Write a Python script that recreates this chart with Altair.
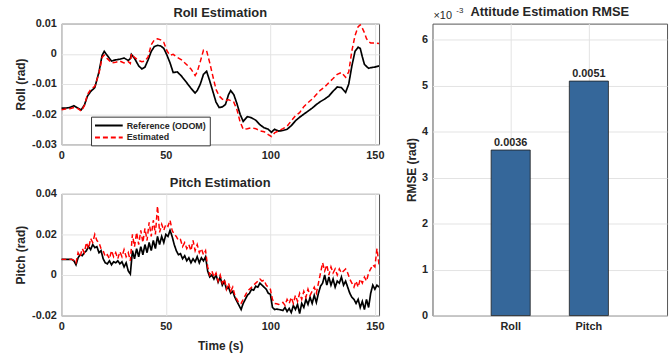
import altair as alt
import pandas as pd

FONT = "Liberation Sans"
INK = "#262626"
GRID = "#e3e3e3"

series_names = ["Reference (ODOM)", "Estimated"]
series_colors = ["#000000", "#ff0000"]

# ---------------- Roll (rad) ----------------
roll_t = [0, 2, 4, 6, 8, 9.5, 11, 12.5, 14, 16, 18, 19.5, 20.5, 22, 24, 26, 28, 30, 32, 33,
          33.5, 35, 37, 38.5, 40, 41.5, 43, 44.5, 46, 47.5, 49, 50.5, 52, 53.5, 55.5, 57.5,
          60, 62, 64, 65, 66.5, 68, 69.5, 71, 72.5, 74, 75.5, 77, 78.5, 80, 81, 82.5, 84,
          85.5, 87, 89, 91, 93, 95, 97, 99, 100.5, 102, 104, 106, 108, 110, 112, 114, 116,
          118, 120, 122, 124, 126, 128, 130, 132, 134, 136, 137.5, 139, 140.5, 142, 143,
          144, 145, 146, 147, 148, 150, 152]
roll_ref = [-0.0180, -0.0180, -0.0178, -0.0172, -0.0180, -0.0186, -0.0170, -0.0140, -0.0125,
            -0.0112, -0.0060, -0.0005, 0.0008, -0.0006, -0.0024, -0.0020, -0.0018, -0.0014,
            -0.0022, -0.0016, -0.0002, -0.0015, -0.0040, -0.0050, -0.0044, -0.0020, 0.0008,
            0.0024, 0.0028, 0.0026, 0.0018, -0.0004, -0.0030, -0.0062, -0.0060, -0.0074,
            -0.0096, -0.0114, -0.0130, -0.0122, -0.0100, -0.0068, -0.0058, -0.0090, -0.0125,
            -0.0160, -0.0178, -0.0176, -0.0168, -0.0135, -0.0122, -0.0135, -0.0165, -0.0200,
            -0.0224, -0.0208, -0.0212, -0.0220, -0.0235, -0.0245, -0.0250, -0.0260, -0.0250,
            -0.0256, -0.0254, -0.0250, -0.0238, -0.0222, -0.0210, -0.0200, -0.0190, -0.0180,
            -0.0168, -0.0158, -0.0150, -0.0140, -0.0124, -0.0110, -0.0112, -0.0128, -0.0100,
            -0.0040, 0.0008, 0.0022, 0.0018, -0.0010, -0.0035, -0.0042, -0.0048, -0.0046,
            -0.0044, -0.0040]
roll_est = [-0.0185, -0.0183, -0.0182, -0.0178, -0.0182, -0.0190, -0.0172, -0.0135, -0.0118,
            -0.0108, -0.0065, -0.0012, -0.0004, -0.0016, -0.0030, -0.0028, -0.0024, -0.0030,
            -0.0026, -0.0032, 0.0000, -0.0012, -0.0022, -0.0026, -0.0024, -0.0010, 0.0030,
            0.0046, 0.0050, 0.0046, 0.0038, 0.0010, -0.0005, -0.0002, -0.0012, -0.0020,
            -0.0036, -0.0050, -0.0072, -0.0060, -0.0025, 0.0012, 0.0010, -0.0030, -0.0075,
            -0.0118, -0.0140, -0.0150, -0.0155, -0.0152, -0.0155, -0.0160, -0.0185, -0.0225,
            -0.0250, -0.0248, -0.0245, -0.0248, -0.0255, -0.0258, -0.0268, -0.0274, -0.0262,
            -0.0255, -0.0248, -0.0240, -0.0222, -0.0205, -0.0195, -0.0175, -0.0162, -0.0150,
            -0.0135, -0.0120, -0.0110, -0.0095, -0.0082, -0.0068, -0.0062, -0.0078, -0.0060,
            0.0010, 0.0060, 0.0090, 0.0096, 0.0085, 0.0070, 0.0050, 0.0040, 0.0036,
            0.0036, 0.0034]

# ---------------- Pitch (rad) ----------------
pitch_t = [0] + list(range(5, 153))
pitch_ref = [0.0077, 0.0077, 0.0070, 0.0050, 0.0085, 0.0100, 0.0095, 0.0110, 0.0120, 0.0140,
             0.0125, 0.0150, 0.0135, 0.0140, 0.0110, 0.0120, 0.0080, 0.0060, 0.0055, 0.0070,
             0.0050, 0.0065, 0.0060, 0.0070, 0.0055, 0.0065, 0.0040, 0.0060, 0.0020, 0.0005,
             0.0120, 0.0080, 0.0130, 0.0090, 0.0140, 0.0100, 0.0150, 0.0110, 0.0160, 0.0120,
             0.0170, 0.0130, 0.0190, 0.0150, 0.0190, 0.0160, 0.0200, 0.0190, 0.0220, 0.0190,
             0.0150, 0.0120, 0.0100, 0.0105, 0.0080, 0.0095, 0.0070, 0.0085, 0.0060, 0.0080,
             0.0065, 0.0090, 0.0060, 0.0085, 0.0070, 0.0090, 0.0020, -0.0010, 0.0000, -0.0020,
             0.0000, -0.0035, -0.0010, -0.0050, -0.0030, -0.0070, -0.0060, -0.0090, -0.0080,
             -0.0110, -0.0130, -0.0150, -0.0170, -0.0140, -0.0120, -0.0100, -0.0090, -0.0070,
             -0.0075, -0.0055, -0.0060, -0.0040, -0.0050, -0.0060, -0.0070, -0.0090, -0.0095,
             -0.0160, -0.0170, -0.0168, -0.0170, -0.0172, -0.0175, -0.0160, -0.0180, -0.0165,
             -0.0185, -0.0150, -0.0170, -0.0145, -0.0190, -0.0140, -0.0160, -0.0120, -0.0145,
             -0.0110, -0.0140, -0.0100, -0.0135, -0.0090, -0.0055, -0.0040, 0.0000, -0.0050,
             -0.0010, -0.0050, -0.0020, -0.0060, -0.0030, -0.0040, -0.0010, -0.0050, -0.0030,
             -0.0060, -0.0090, -0.0110, -0.0120, -0.0140, -0.0120, -0.0160, -0.0130, -0.0170,
             -0.0120, -0.0160, -0.0090, -0.0050, -0.0070, -0.0050, -0.0060]
pitch_est = [0.0077, 0.0077, 0.0072, 0.0060, 0.0110, 0.0090, 0.0130, 0.0110, 0.0160, 0.0130,
             0.0180, 0.0160, 0.0200, 0.0170, 0.0160, 0.0130, 0.0120, 0.0090, 0.0100, 0.0080,
             0.0120, 0.0090, 0.0110, 0.0080, 0.0115, 0.0090, 0.0125, 0.0090, 0.0110, 0.0070,
             0.0200, 0.0140, 0.0210, 0.0150, 0.0220, 0.0160, 0.0230, 0.0170, 0.0260, 0.0190,
             0.0270, 0.0200, 0.0340, 0.0210, 0.0250, 0.0220, 0.0250, 0.0240, 0.0270, 0.0220,
             0.0200, 0.0190, 0.0170, 0.0175, 0.0140, 0.0160, 0.0130, 0.0150, 0.0120, 0.0170,
             0.0120, 0.0150, 0.0110, 0.0130, 0.0100, 0.0120, 0.0040, 0.0000, 0.0020, -0.0010,
             0.0010, -0.0030, 0.0000, -0.0040, -0.0020, -0.0070, -0.0040, -0.0080, -0.0060,
             -0.0100, -0.0120, -0.0140, -0.0140, -0.0120, -0.0100, -0.0080, -0.0070, -0.0060,
             -0.0050, -0.0040, -0.0030, -0.0020, -0.0030, -0.0025, -0.0050, -0.0060, -0.0070,
             -0.0120, -0.0140, -0.0142, -0.0145, -0.0140, -0.0135, -0.0150, -0.0120, -0.0140,
             -0.0110, -0.0140, -0.0100, -0.0130, -0.0090, -0.0120, -0.0080, -0.0110, -0.0070,
             -0.0100, -0.0080, -0.0060, -0.0090, -0.0040, 0.0010, 0.0060, 0.0020, 0.0050,
             0.0000, 0.0040, 0.0010, 0.0030, 0.0000, 0.0030, 0.0010, 0.0020, 0.0030,
             0.0010, -0.0020, -0.0040, -0.0060, -0.0030, -0.0060, -0.0020, -0.0040, -0.0010,
             -0.0030, 0.0010, 0.0030, 0.0050, 0.0040, 0.0130, 0.0050]

# ---------------- RMSE ----------------
rmse_labels = ["Roll", "Pitch"]
rmse_values = [0.0036, 0.0051]


def to_long(t, ref, est):
    return pd.DataFrame({
        "t": list(t) + list(t),
        "v": list(ref) + list(est),
        "s": [series_names[0]] * len(t) + [series_names[1]] * len(t),
    })


roll_df = to_long(roll_t, roll_ref, roll_est)
pitch_df = to_long(pitch_t, pitch_ref, pitch_est)


def title(text, offset):
    return alt.TitleParams(text=text, frame="group", anchor="middle", offset=offset,
                           font=FONT, fontSize=13, fontWeight="bold", color=INK)


def panel(df, ttl, ytitle, ydom, yticks, xtitle, show_legend, w, h):
    if show_legend:
        leg = alt.Legend(title=None, orient="none", legendX=30, legendY=94,
                         symbolType="M-1,0L4.6,0", symbolSize=100, symbolStrokeWidth=2,
                         labelFont=FONT, labelFontSize=9, labelFontWeight="bold",
                         labelColor=INK, fillColor="white", strokeColor="#333333",
                         padding=3, rowPadding=1, labelOffset=21)
    else:
        leg = None
    x = alt.X("t:Q", scale=alt.Scale(domain=[0, 152], nice=False, zero=False),
              axis=alt.Axis(values=[0, 50, 100, 150], format="d", title=xtitle,
                            titlePadding=9))
    y = alt.Y("v:Q", scale=alt.Scale(domain=ydom, nice=False, zero=False),
              axis=alt.Axis(values=yticks, title=ytitle, labelExpr="toString(datum.value)"))
    color = alt.Color("s:N", scale=alt.Scale(domain=series_names, range=series_colors),
                      legend=leg)
    dash = alt.StrokeDash("s:N", scale=alt.Scale(domain=series_names, range=[[1, 0], [5, 3]]),
                          legend=leg)
    layers = []
    for name, sw in zip(series_names, [1.7, 1.5]):
        layers.append(
            alt.Chart(df).transform_filter(alt.datum.s == name)
            .mark_line(strokeWidth=sw, clip=True)
            .encode(x=x, y=y, color=color, strokeDash=dash)
        )
    return alt.layer(*layers).properties(width=w, height=h, title=title(ttl, -2))


roll = panel(roll_df, "Roll Estimation", "Roll (rad)", [-0.03, 0.01],
             [-0.03, -0.02, -0.01, 0, 0.01], None, True, 321, 122)
pitch = panel(pitch_df, "Pitch Estimation", "Pitch (rad)", [-0.02, 0.04],
              [-0.02, 0, 0.02, 0.04], "Time (s)", False, 321, 123)

left = alt.vconcat(roll, pitch, spacing=15).resolve_scale(color="independent",
                                                          strokeDash="independent")

bar_df = pd.DataFrame({"cat": rmse_labels, "rmse": rmse_values})
bx = alt.X("cat:N", sort=rmse_labels,
           scale=alt.Scale(paddingInner=0.5, paddingOuter=0.75),
           axis=alt.Axis(title=None, labelAngle=0, grid=True, bandPosition=0.5))
by = alt.Y("rmse:Q", scale=alt.Scale(domain=[0, 0.00635], nice=False, zero=True),
           axis=alt.Axis(values=[0, 0.001, 0.002, 0.003, 0.004, 0.005, 0.006],
                         labelExpr="toString(round(datum.value*1000))",
                         title="RMSE (rad)", titlePadding=3))
bars = alt.Chart(bar_df).mark_bar(color="#35679a", stroke="#1f1f1f", strokeWidth=0.8).encode(
    x=bx, y=by)
vals = alt.Chart(bar_df).mark_text(dy=-7, font=FONT, fontSize=11, fontWeight="bold",
                                   color=INK).encode(
    x=bx, y=by, text=alt.Text("rmse:Q", format=".4f"))
mult_df = pd.DataFrame({"m": ["\u00d710"], "e": ["-3"]})
mult = alt.Chart(mult_df).mark_text(align="left", baseline="alphabetic", font=FONT,
                                    fontSize=11, color=INK).encode(
    x=alt.value(1), y=alt.value(-5), text="m:N")
expo = alt.Chart(mult_df).mark_text(align="left", baseline="alphabetic", font=FONT,
                                    fontSize=8, color=INK).encode(
    x=alt.value(24), y=alt.value(-11), text="e:N")
right = alt.layer(bars, vals, mult, expo).properties(
    width=237, height=295, title=title("Attitude Estimation RMSE", -12))

chart = (
    alt.hconcat(left, right, spacing=20)
    .resolve_scale(color="independent", strokeDash="independent")
    .configure(background="white", font=FONT,
               padding={"left": 14, "top": 3, "right": 4, "bottom": 4})
    .configure_view(stroke="#555555", strokeWidth=1)
    .configure_axis(labelFont=FONT, labelFontSize=11, labelFontWeight="bold",
                    labelColor=INK, titleFont=FONT, titleFontSize=12,
                    titleFontWeight="bold", titleColor=INK, domain=False, ticks=False,
                    grid=True, gridColor=GRID, gridWidth=1, labelPadding=5,
                    labelFlush=False, titlePadding=4)
)

chart.save("out.html", embed_options={"renderer": "svg", "actions": False})
